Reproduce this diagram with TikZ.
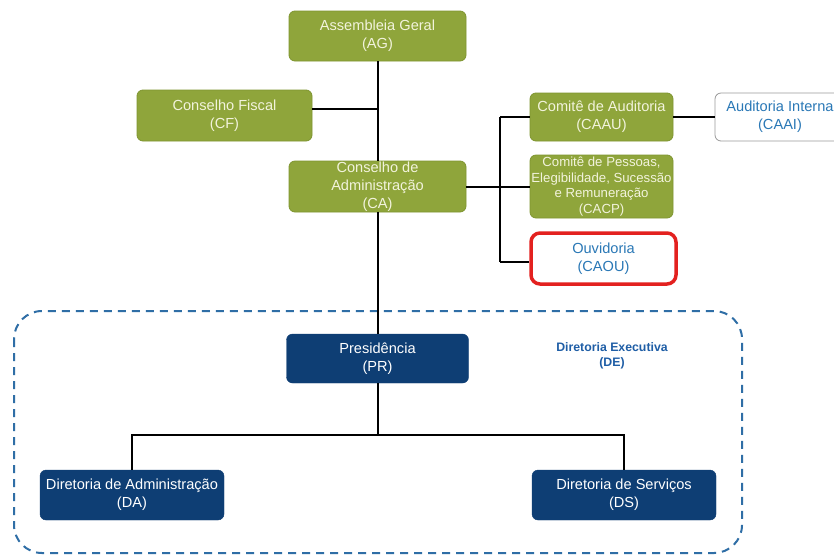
\documentclass[tikz,border=0pt]{standalone}
\usepackage{fontspec}
\setmainfont{Liberation Sans}
\definecolor{olive}{HTML}{8FA53B}
\definecolor{olivedark}{HTML}{7F9530}
\definecolor{cream}{HTML}{F2F3DC}
\definecolor{navy}{HTML}{0E3E74}
\definecolor{txtblue}{HTML}{2A78B6}
\definecolor{deblue}{HTML}{1F5EA6}
\definecolor{dashblue}{HTML}{2F6EA6}
\definecolor{redline}{HTML}{E3211F}
\begin{document}
\begin{tikzpicture}[x=1pt,y=-1pt,
  box/.style={rectangle,rounded corners=6pt,align=center,inner sep=0pt,
    font=\fontsize{14.6}{18}\selectfont},
  greenbox/.style={box,fill=olive,draw=olivedark,line width=0.8pt,text=cream},
  bluebox/.style={box,fill=navy,draw=navy,text=white},
  whitebox/.style={box,fill=white,draw=gray!80,line width=0.8pt,text=txtblue},
  conn/.style={draw=black,line width=2pt}]
\useasboundingbox (0,0) rectangle (834,555);
\fill[white] (0,0) rectangle (834,555);
% dashed frame
\draw[dashblue,line width=2pt,dash pattern=on 8pt off 6pt,rounded corners=28pt] (14,311) rectangle (742,553);
% nodes
\node[greenbox,minimum width=177pt,minimum height=50pt] (AG) at (377.5,36) {Assembleia Geral\\(AG)};
\node[greenbox,minimum width=175pt,minimum height=51pt] (CF) at (224.5,115.5) {Conselho Fiscal\\(CF)};
\node[greenbox,minimum width=177pt,minimum height=51pt] (CA) at (377.5,186.5) {Conselho de\\Administração\\(CA)};
\node[greenbox,minimum width=143pt,minimum height=48pt] (CAAU) at (601.5,117) {Comitê de Auditoria\\(CAAU)};
\node[whitebox,minimum width=130pt,minimum height=48pt] (CAAI) at (780,117) {Auditoria Interna\\(CAAI)};
\node[greenbox,minimum width=143pt,minimum height=63pt,font=\fontsize{13.2}{15.5}\selectfont] (CACP) at (601.5,186.5) {Comitê de Pessoas,\\Elegibilidade, Sucessão\\e Remuneração\\(CACP)};
\node[whitebox,draw=redline,line width=3.5pt,rounded corners=9pt,minimum width=145pt,minimum height=51pt] (CAOU) at (603.5,258.5) {Ouvidoria\\(CAOU)};
\node[bluebox,minimum width=182pt,minimum height=49pt] (PR) at (377.5,358.5) {Presidência\\(PR)};
\node[bluebox,minimum width=184pt,minimum height=50pt] (DA) at (132,495) {Diretoria de Administração\\(DA)};
\node[bluebox,minimum width=184pt,minimum height=50pt] (DS) at (624,495) {Diretoria de Serviços\\(DS)};
\node[align=center,text=deblue,font=\bfseries\fontsize{12.3}{15}\selectfont,inner sep=0pt] (DE) at (612,355.5) {Diretoria Executiva\\(DE)};
% connectors
\coordinate (bus) at (500,186.5);
\coordinate (bustop) at (500,117);
\coordinate (busbot) at (500,262);
\coordinate (split) at (377.5,435);
\draw[conn] (AG.south) -- (CA.north);
\draw[conn] ([yshift=6.5pt]CF.east) -- ([yshift=6.5pt]CF.east -| AG.south);
\draw[conn] (CA.east) -- (bus);
\draw[conn] (bustop) -- (busbot);
\draw[conn] (bustop) -- (CAAU.west);
\draw[conn] (bus) -- (CACP.west);
\draw[conn] (busbot) -- (busbot -| CAOU.west);
\draw[conn] (CAAU.east) -- (CAAI.west);
\draw[conn] (CA.south) -- (PR.north);
\draw[conn] (PR.south) -- (split);
\draw[conn] (DA.north) |- (split) -| (DS.north);
\end{tikzpicture}
\end{document}
